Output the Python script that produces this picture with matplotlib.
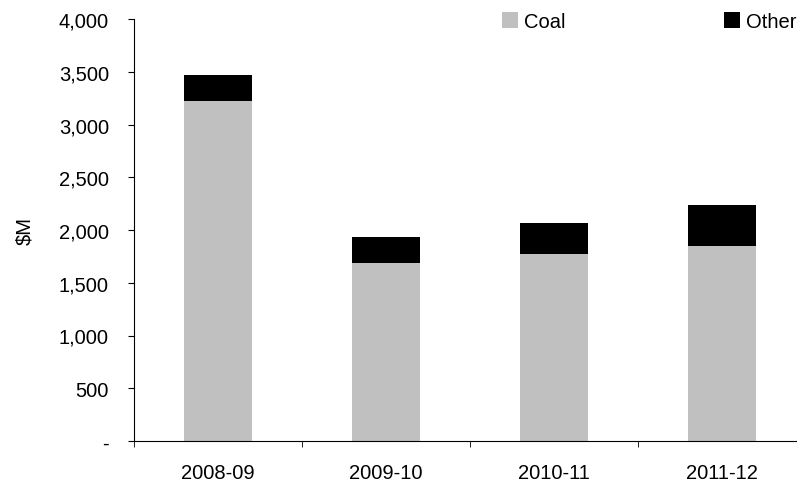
import matplotlib.pyplot as plt
from matplotlib.ticker import FuncFormatter

years = ["2008-09", "2009-10", "2010-11", "2011-12"]
coal = [3225, 1687, 1773, 1848]
other = [244, 247, 293, 389]

plt.rcParams['font.family'] = ['Liberation Sans', 'DejaVu Sans']
plt.rcParams['font.size'] = 14.5

fig = plt.figure(figsize=(7.97, 4.85), dpi=100)
ax = fig.add_axes([134/797, 1 - 442/485, 672/797, 422/485])

x = range(len(years))
ax.bar(x, coal, width=0.41, color='#C0C0C0', label='Coal')
ax.bar(x, other, width=0.41, bottom=coal, color='black', label='Other')

ax.set_xlim(-0.5, 3.5)
ax.set_ylim(0, 4000)
ax.set_yticks(range(0, 4001, 500))
ax.yaxis.set_major_formatter(FuncFormatter(lambda v, p: '-' if v == 0 else f'{int(v):,}'))
ax.set_xticks(list(x))
ax.set_xticklabels(years)
ax.set_xticks([-0.5, 0.5, 1.5, 2.5, 3.5], minor=True)
ax.tick_params(axis='x', which='major', length=0, pad=16)
ax.tick_params(axis='x', which='minor', length=4.5, direction='out')
ax.tick_params(axis='y', length=4.5, direction='out', pad=13.5)
ax.set_ylabel(r'\$M', labelpad=18)

for s in ['top', 'right']:
    ax.spines[s].set_visible(False)
for s in ['left', 'bottom']:
    ax.spines[s].set_linewidth(0.8)

fig.legend(loc='upper left', bbox_to_anchor=(502/797, 1 - 13/485), ncol=2,
           frameon=False, borderpad=0, borderaxespad=0, handlelength=0.78,
           handleheight=0.78, handletextpad=0.3, columnspacing=7.9)

plt.savefig('out.png', dpi=100)
